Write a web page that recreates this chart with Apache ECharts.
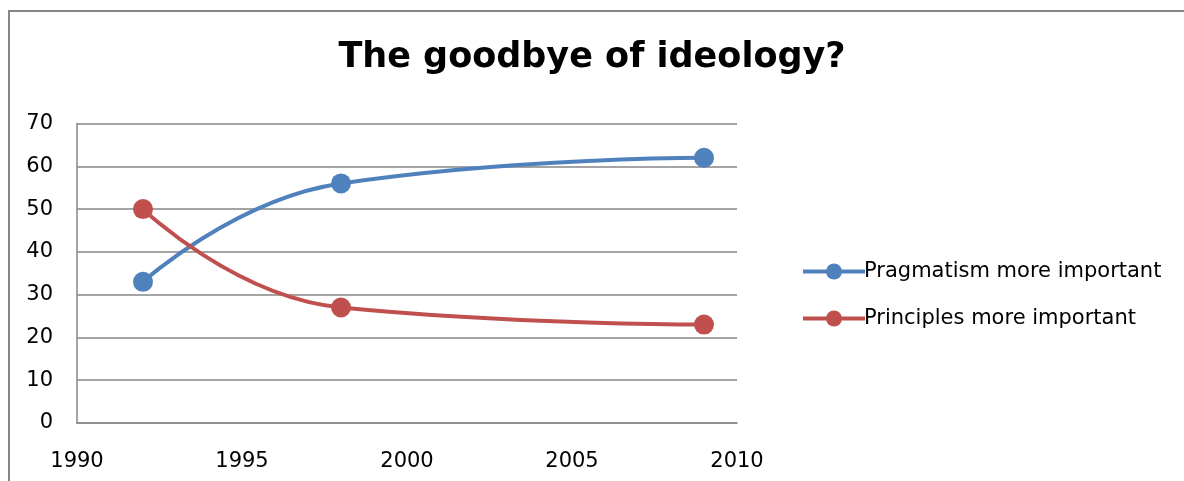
<!DOCTYPE html>
<html><head><meta charset="utf-8">
<script src="https://cdn.jsdelivr.net/npm/echarts@6/dist/echarts.min.js"></script>
<style>html,body{margin:0;padding:0;background:#fff}#c{width:1184px;height:481px}</style>
</head><body><div id="c"></div>
<script>
const years = [1992, 1998, 2009];
const pragmatism = [33, 56, 62];
const principles = [50, 27, 23];
const seriesNames = ['Pragmatism more important', 'Principles more important'];
const titleText = 'The goodbye of ideology?';

const FONT = 'DejaVu Sans';
const chart = echarts.init(document.getElementById('c'));
const mk = (vals) => years.map((y, i) => [y, vals[i]]);
chart.setOption({
  animation: false,
  backgroundColor: '#fff',
  title: {text: titleText, left: 'center', top: 35,
    textStyle: {fontFamily: FONT, fontWeight: 'bold', fontSize: 35, color: '#000'}},
  grid: {left: 77, right: 447, top: 123.5, bottom: 58, containLabel: false},
  legend: {orient: 'vertical', left: 796, top: 256, itemGap: 26, itemWidth: 62, itemHeight: 20,
    lineStyle: {width: 4},
    textStyle: {fontFamily: FONT, fontSize: 21, color: '#000', padding: [0,0,0,-6]},
    data: seriesNames},
  xAxis: {type: 'value', min: 1990, max: 2010, interval: 5,
    axisLine: {show: true, lineStyle: {color: '#868686', width: 1.5}},
    axisTick: {show: false}, splitLine: {show: false},
    axisLabel: {fontFamily: FONT, fontSize: 21, color: '#000', margin: 28,
      formatter: (v) => String(v)}},
  yAxis: {type: 'value', min: 0, max: 70, interval: 10,
    axisLine: {show: true, lineStyle: {color: '#868686', width: 1.5}},
    axisTick: {show: false},
    splitLine: {show: true, lineStyle: {color: '#868686', width: 1.5}},
    axisLabel: {fontFamily: FONT, fontSize: 21, color: '#000', margin: 24}},
  series: [
    {name: seriesNames[0], type: 'line', smooth: 0.5, data: mk(pragmatism),
     symbol: 'circle', symbolSize: 20, color: '#4F81BD',
     lineStyle: {width: 4, color: '#4F81BD'}, itemStyle: {color: '#4F81BD'}},
    {name: seriesNames[1], type: 'line', smooth: 0.5, data: mk(principles),
     symbol: 'circle', symbolSize: 20, color: '#C0504D',
     lineStyle: {width: 4, color: '#C0504D'}, itemStyle: {color: '#C0504D'}}
  ],
  graphic: [{type: 'rect', shape: {x: 9, y: 11, width: 1400, height: 700},
    style: {fill: null, stroke: '#868686', lineWidth: 2}, silent: true}]
});
</script></body></html>
